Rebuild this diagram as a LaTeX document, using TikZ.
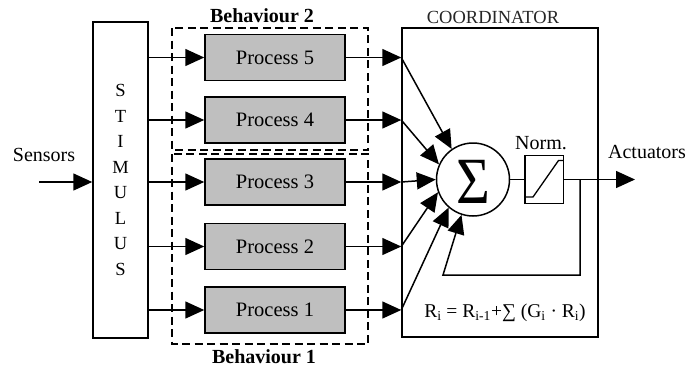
\documentclass[tikz,border=0pt]{standalone}
\usepackage{fontspec}
\setmainfont{Liberation Serif}
\usetikzlibrary{arrows.meta,calc}
\begin{document}
\begin{tikzpicture}[x=1pt,y=-1pt,
  line width=1.5pt,
  arr/.style={-{Triangle[length=19pt,width=17pt]}},
  procbox/.style={draw, fill=black!25, minimum width=140pt, minimum height=46pt, inner sep=0pt,
    font=\fontsize{20.5}{21}\selectfont},
  behbox/.style={line width=2pt, dash pattern=on 8pt off 4.5pt},
  lbl/.style={inner sep=0pt, font=\fontsize{20}{22}\selectfont},
  blbl/.style={inner sep=0pt, font=\fontsize{20}{22}\selectfont\bfseries}]
\useasboundingbox (0,0) rectangle (688,367);

% stimulus column
\node[draw, minimum width=55pt, minimum height=316pt, inner sep=0pt, align=center,
      font=\fontsize{18.5}{25.5}\selectfont] (stim) at (120.5,180)
      {S\\T\\I\\M\\U\\L\\U\\S};

% sensor input
\node[lbl] (sensors) at (44,155) {Sensors};
\coordinate (sens) at (39,182);
\draw[arr] (sens) -- (sens -| stim.west);

% behaviour groups
\draw[behbox] (172,28) rectangle (368,150);
\draw[behbox] (172,154) rectangle (368,344);
\node[blbl] (beh2) at (262,16) {Behaviour 2};
\node[blbl] (beh1) at (264,357) {Behaviour 1};

% processes
\node[procbox] (p5) at (275,57.5) {Process 5};
\node[procbox] (p4) at (275,120) {Process 4};
\node[procbox] (p3) at (275,182) {Process 3};
\node[procbox] (p2) at (275,246.5) {Process 2};
\node[procbox] (p1) at (275,310) {Process 1};

% coordinator
\node[draw, minimum width=196pt, minimum height=309pt, inner sep=0pt] (coord) at (500,182.5) {};
\node[inner sep=0pt, font=\fontsize{18.5}{20}\selectfont, color=black!85] (ctitle) at (493,17) {COORDINATOR};

\node[draw, circle, minimum size=73pt, inner sep=0pt] (sum) at (473,179.5) {};
\node[inner sep=0pt, font=\fontsize{66}{66}\selectfont, xscale=0.88] (sigma) at (473,181.6) {Σ};

\node[draw, minimum width=38.5pt, minimum height=48pt, inner sep=0pt] (norm) at (544,179.5) {};
\node[lbl] (normlbl) at (541,143) {Norm.};
\draw[line width=1.3pt] (525,197) -- (533,197) -- (558.5,160.5) -- (563,160.5);

\node[inner sep=0pt, font=\fontsize{19.5}{20}\selectfont] (formula) at (505,313)
  {R\textsubscript{i} = R\textsubscript{i-1}+∑ (G\textsubscript{i} · R\textsubscript{i})};

% stimulus to processes, processes to coordinator
\foreach \p in {p1,p2,p3,p4,p5}{
  \draw[arr] (stim.east |- \p.west) -- (\p.west);
  \draw[arr] (\p.east) -- (\p.east -| coord.west);
}

% coordinator inputs into the sum
\draw[arr] (p5.east -| coord.west) -- (sum.125);
\draw[arr] (p4.east -| coord.west) -- (sum.156);
\draw[arr] (p3.east -| coord.west) -- (sum.west);
\draw[arr] (p2.east -| coord.west) -- (sum.200);
\draw[arr] (p1.east -| coord.west) -- (sum.229);

% sum to normaliser, output and feedback
\draw (sum.east) -- (norm.west);
\coordinate (act) at (635,179.5);
\node[lbl] (actuators) at (647,152) {Actuators};
\draw[arr] (norm.east) -- (act);
\coordinate (fb1) at (580,179.5);
\coordinate (fb2) at (580,275);
\coordinate (fb3) at (443,275);
\draw[arr] (fb1) -- (fb2) -- (fb3) -- (sum.252);
\end{tikzpicture}
\end{document}
